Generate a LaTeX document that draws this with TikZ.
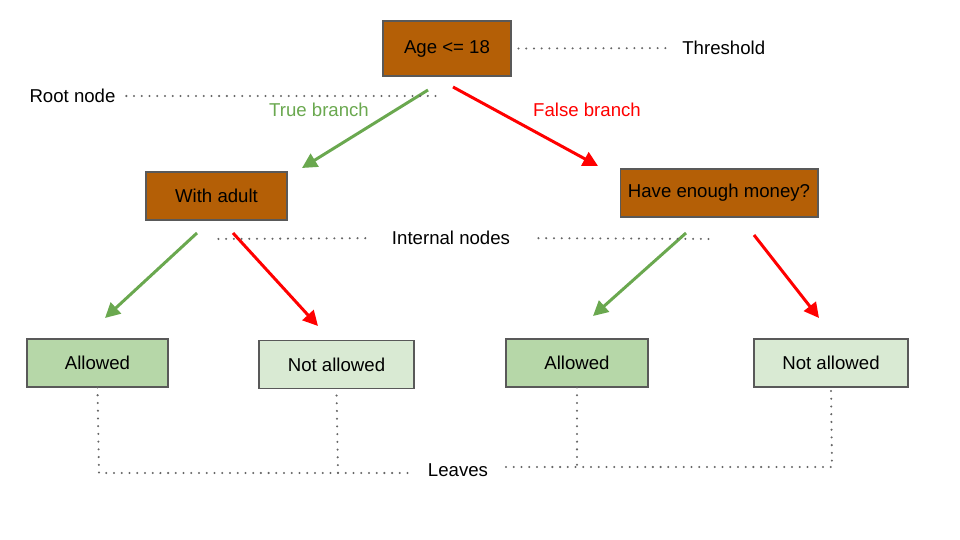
\documentclass[tikz,border=0pt]{standalone}
\usepackage{fontspec}
\setmainfont{Liberation Sans}
\usetikzlibrary{arrows.meta}
\definecolor{rootbrown}{HTML}{B45F06}
\definecolor{boxgray}{HTML}{595959}
\definecolor{truegreen}{HTML}{6AA84F}
\definecolor{leafgreen}{HTML}{B6D7A8}
\definecolor{leaflight}{HTML}{D9EAD3}
\definecolor{dotgray}{HTML}{666666}
\begin{document}
\begin{tikzpicture}[
    x=0.02cm, y=-0.02cm,
    font=\fontsize{10.6}{12.7}\selectfont,
    decision/.style={draw=boxgray, fill=rootbrown, line width=0.6pt, inner sep=0pt, minimum height=0.96cm},
    leaf/.style={draw=boxgray, line width=0.6pt, inner sep=0pt, minimum height=0.96cm},
    note/.style={inner sep=0pt},
    truearrow/.style={-{Triangle[length=8.5pt,width=8.5pt]}, line width=1.7pt, truegreen},
    falsearrow/.style={-{Triangle[length=8.5pt,width=8.5pt]}, line width=1.7pt, red},
    guide/.style={dotgray, line width=1.3pt, line cap=round, dash pattern=on 0pt off 4.4pt}
]
    \useasboundingbox (0,0) rectangle (960,540);

    % Decision nodes
    \node[decision, minimum width=2.56cm, minimum height=1.1cm] (root) at (447,48.5) {Age <= 18};
    \node[decision, minimum width=2.82cm] (adult) at (216.5,196) {With adult};
    \node[decision, minimum width=3.96cm] (money) at (719,193) {Have enough money?};

    % Leaves
    \node[leaf, fill=leafgreen, minimum width=2.82cm] (allowA) at (97.5,363) {Allowed};
    \node[leaf, fill=leaflight, minimum width=3.1cm] (denyA) at (336.5,364.5) {Not allowed};
    \node[leaf, fill=leafgreen, minimum width=2.84cm] (allowB) at (577,363) {Allowed};
    \node[leaf, fill=leaflight, minimum width=3.08cm] (denyB) at (831,363) {Not allowed};

    % Annotations
    \node[note, anchor=west] (threshold) at (682,48) {Threshold};
    \node[note] (rootnote) at (72.5,96) {Root node};
    \node[note] (internal) at (451,238) {Internal nodes};
    \node[note] (leaves) at (458,470) {Leaves};
    \node[note, truegreen] (truelbl) at (319,110) {True branch};
    \node[note, red] (falselbl) at (587,110) {False branch};

    % Branch end points
    \coordinate (rootT) at (428,90);
    \coordinate (rootF) at (453,87);
    \coordinate (adultT) at (302,168);
    \coordinate (moneyF) at (598,166);
    \coordinate (adultTs) at (197,233);
    \coordinate (adultFs) at (233,233);
    \coordinate (allowAt) at (105,318);
    \coordinate (denyAt) at (318,326);
    \coordinate (moneyTs) at (686,233);
    \coordinate (moneyFs) at (754,235);
    \coordinate (allowBt) at (593,316);
    \coordinate (denyBt) at (819,318);

    % Branches
    \draw[truearrow] (rootT) -- (adultT);
    \draw[falsearrow] (rootF) -- (moneyF);
    \draw[truearrow] (adultTs) -- (allowAt);
    \draw[falsearrow] (adultFs) -- (denyAt);
    \draw[truearrow] (moneyTs) -- (allowBt);
    \draw[falsearrow] (moneyFs) -- (denyBt);

    % Guide lines
    \coordinate (rootend) at (440,96);
    \coordinate (intL) at (216,239);
    \coordinate (intR) at (716,239);
    \coordinate (leafA) at (99,473);
    \coordinate (leafA2) at (338,473);
    \coordinate (leafB0) at (506,467);
    \coordinate (leafB) at (577,467);
    \coordinate (leafB2) at (832,467);
    \draw[guide, shorten <=7pt/1.76, shorten >=10pt/1.76] (root.east) -- (threshold.west);
    \draw[guide, shorten <=6pt] (rootnote.east) -- (rootend);
    \draw[guide, shorten <=15pt] (internal.west) -- (intL);
    \draw[guide, shorten <=16pt] (internal.east) -- (intR);
    \draw[guide] (allowA.south) -- (leafA) -- (leafA2) -- (denyA.south);
    \draw[guide, shorten >=8pt] (leafA2) -- (leafA2 -| leaves.west);
    \draw[guide] (allowB.south) -- (leafB);
    \draw[guide] (leafB0) -- (leafB2) -- (denyB.south);
\end{tikzpicture}
\end{document}
